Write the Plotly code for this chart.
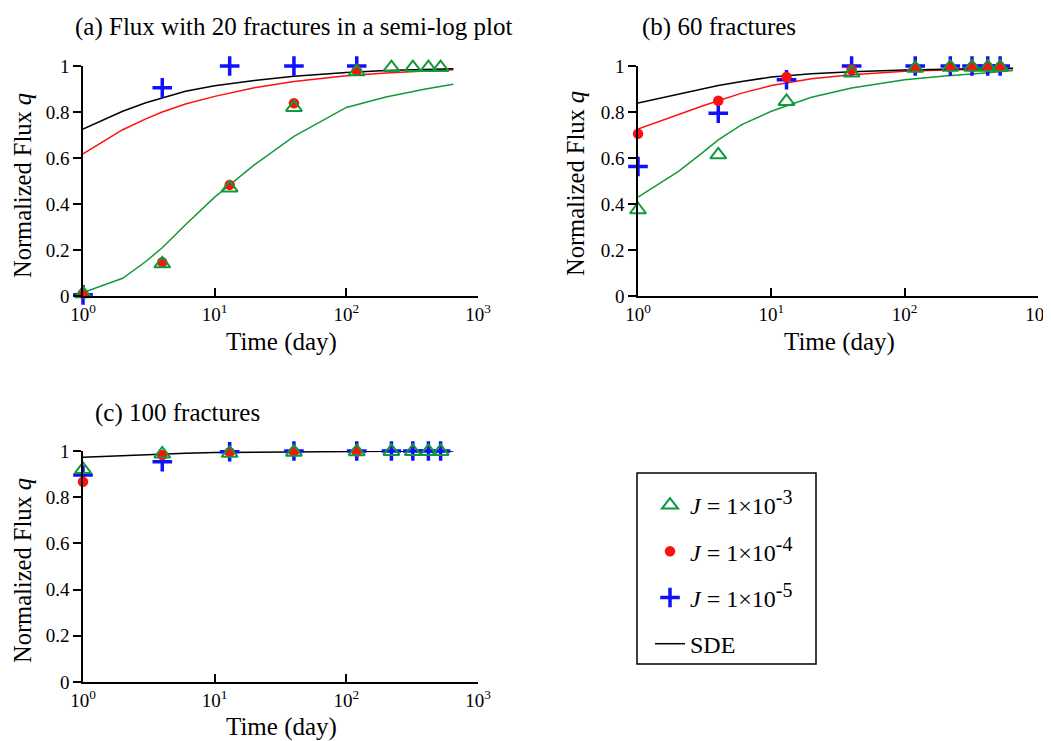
import plotly.graph_objects as go

# ---------------- data ----------------
t_markers = [1, 4, 13, 40, 120, 220, 320, 420, 520]
t_curve = [1, 2, 3, 4, 6, 10, 20, 40, 100, 200, 400, 650]

# Panel (a): 20 fractures
a_J3 = [0.01, 0.14, 0.47, 0.82, 0.975, 0.993, 0.993, 0.993, 0.993]
a_J4 = [0.01, 0.147, 0.483, 0.838, 0.98]
a_J5 = [0.005, 0.905, 1.0, 1.0, 1.0]
a_sde = [0.726, 0.803, 0.84, 0.862, 0.89, 0.914, 0.937, 0.955, 0.972, 0.98, 0.985, 0.988]
a_red = [0.618, 0.723, 0.77, 0.80, 0.835, 0.868, 0.905, 0.933, 0.958, 0.97, 0.978, 0.984]
a_green = [0.015, 0.077, 0.15, 0.21, 0.31, 0.43, 0.57, 0.694, 0.82, 0.865, 0.90, 0.921]

# Panel (b): 60 fractures
b_J3 = [0.375, 0.614, 0.846, 0.97, 0.99, 0.995, 0.995, 0.995, 0.995]
b_J4 = [0.705, 0.849, 0.952, 0.985, 0.993, 0.996, 0.996, 0.996, 0.996]
b_J5 = [0.563, 0.795, 0.94, 1.0, 1.0, 1.0, 1.0, 1.0, 1.0]
b_sde = [0.839, 0.878, 0.90, 0.915, 0.933, 0.952, 0.966, 0.975, 0.983, 0.987, 0.989, 0.99]
b_red = [0.726, 0.79, 0.825, 0.849, 0.882, 0.915, 0.945, 0.962, 0.977, 0.983, 0.986, 0.988]
b_green = [0.43, 0.541, 0.62, 0.679, 0.745, 0.803, 0.864, 0.904, 0.94, 0.957, 0.97, 0.98]

# Panel (c): 100 fractures
c_J3 = [0.92, 0.987, 0.99, 0.995, 0.997, 0.998, 0.998, 0.998, 0.998]
c_J4 = [0.867, 0.983, 0.995, 0.998, 0.998]
c_J5 = [0.896, 0.954, 0.997, 1.0, 1.0, 1.0, 1.0, 1.0, 1.0]
c_sde = [0.973, 0.98, 0.984, 0.987, 0.99, 0.993, 0.995, 0.997, 0.998, 0.999, 0.999, 1.0]

titles = ["(a) Flux with 20 fractures in a semi-log plot", "(b) 60 fractures", "(c) 100 fractures"]
x_title = "Time (day)"
y_title = "Normalized Flux <i>q</i>"
exponents = ["-3", "-4", "-5"]
legend_names = ["<i>J</i> = 1\u00d710<sup><span style=\"font-size:20px\">%s</span></sup>" % e
                for e in exponents] + ["SDE"]
x_tickvals = [1, 10, 100, 1000]
x_ticktext = ["10<sup>0</sup>", "10<sup>1</sup>", "10<sup>2</sup>", "10<sup>3</sup>"]
y_tickvals = [0, 0.2, 0.4, 0.6, 0.8, 1]
y_ticktext = ["0", "0.2", "0.4", "0.6", "0.8", "1"]

GREEN = "#11993a"
RED = "#ff1010"
BLUE = "#1010ff"
FONT = "Liberation Serif"
# the page body has an 8px margin, so page pixels are offset by 8 from figure pixels
OFF = 8
W, H = 1051, 741


def px_x(p):
    return (p - OFF) / W


def px_y(p):
    return 1 - (p - OFF) / H


fig = go.Figure()

panels = [
    dict(ax="", J3=a_J3, J4=a_J4, J5=a_J5, sde=a_sde, red=a_red, green=a_green),
    dict(ax="2", J3=b_J3, J4=b_J4, J5=b_J5, sde=b_sde, red=b_red, green=b_green),
    dict(ax="3", J3=c_J3, J4=c_J4, J5=c_J5, sde=c_sde, red=None, green=None),
]

for i, p in enumerate(panels):
    xa, ya = "x" + p["ax"], "y" + p["ax"]
    show = i == 0
    if p["green"] is not None:
        fig.add_trace(go.Scatter(x=t_curve, y=p["green"], mode="lines", xaxis=xa, yaxis=ya,
                                 line=dict(color=GREEN, width=1.5), showlegend=False))
    if p["red"] is not None:
        fig.add_trace(go.Scatter(x=t_curve, y=p["red"], mode="lines", xaxis=xa, yaxis=ya,
                                 line=dict(color=RED, width=1.5), showlegend=False))
    fig.add_trace(go.Scatter(x=t_curve, y=p["sde"], mode="lines", xaxis=xa, yaxis=ya,
                             line=dict(color="black", width=1.5), name=legend_names[3],
                             showlegend=show, legendrank=4, legendgroup="g4"))
    fig.add_trace(go.Scatter(x=t_markers[:len(p["J5"])], y=p["J5"], mode="markers", xaxis=xa, yaxis=ya,
                             marker=dict(symbol="cross-thin-open", size=14, color=BLUE,
                                         line=dict(color=BLUE, width=3.5)),
                             name=legend_names[2], showlegend=show, legendrank=3, legendgroup="g3",
                             cliponaxis=False))
    fig.add_trace(go.Scatter(x=t_markers[:len(p["J4"])], y=p["J4"], mode="markers", xaxis=xa, yaxis=ya,
                             marker=dict(symbol="circle", size=10.5, color=RED, line=dict(width=0)),
                             name=legend_names[1], showlegend=show, legendrank=2, legendgroup="g2",
                             cliponaxis=False))
    fig.add_trace(go.Scatter(x=t_markers[:len(p["J3"])], y=p["J3"], mode="markers", xaxis=xa, yaxis=ya,
                             marker=dict(symbol="triangle-up-open", size=14, color=GREEN,
                                         line=dict(color=GREEN, width=2)),
                             name=legend_names[0], showlegend=show, legendrank=1, legendgroup="g1",
                             cliponaxis=False))

domains = {
    "": ([px_x(83), px_x(478)], [px_y(296), px_y(66)]),
    "2": ([px_x(638), px_x(1038)], [px_y(296), px_y(66)]),
    "3": ([px_x(83), px_x(478)], [px_y(682), px_y(451)]),
}

for k, (dx, dy) in domains.items():
    xaxis = dict(domain=dx, type="log", range=[0, 3], anchor="y" + k, automargin=False,
                 tickvals=x_tickvals, ticktext=x_ticktext, ticks="inside", ticklen=8,
                 tickwidth=1.5, tickcolor="black", showline=True, linecolor="black", linewidth=1.5,
                 showgrid=False, zeroline=False, tickfont=dict(size=19, family=FONT, color="black"))
    yaxis = dict(domain=dy, range=[0, 1], anchor="x" + k, automargin=False,
                 tickvals=y_tickvals, ticktext=y_ticktext, ticks="outside", ticklen=8,
                 tickwidth=1.5, tickcolor="black", showline=True, linecolor="black", linewidth=1.5,
                 showgrid=False, zeroline=False, tickfont=dict(size=19, family=FONT, color="black"))
    fig.update_layout(**{"xaxis" + k: xaxis, "yaxis" + k: yaxis})

# panel titles
title_pos = [(73, 27), (640, 27), (93, 413)]
for txt, (tx, ty) in zip(titles, title_pos):
    fig.add_annotation(text=txt, x=px_x(tx), y=px_y(ty), xref="paper", yref="paper",
                       xanchor="left", yanchor="middle", showarrow=False,
                       font=dict(size=25, family=FONT, color="black"))

# axis titles
x_title_pos = [(281, 342), (839, 342), (281, 727)]
y_title_pos = [(22, 186), (575, 184), (22, 571)]
for (tx, ty) in x_title_pos:
    fig.add_annotation(text=x_title, x=px_x(tx), y=px_y(ty), xref="paper", yref="paper",
                       xanchor="center", yanchor="middle", showarrow=False,
                       font=dict(size=25, family=FONT, color="black"))
for (tx, ty) in y_title_pos:
    fig.add_annotation(text=y_title, x=px_x(tx), y=px_y(ty), xref="paper", yref="paper",
                       xanchor="center", yanchor="middle", showarrow=False, textangle=-90,
                       font=dict(size=24.5, family=FONT, color="black"))

fig.add_shape(type="rect", xref="paper", yref="paper",
              x0=px_x(637), x1=px_x(816), y0=px_y(664), y1=px_y(473),
              line=dict(color="black", width=1.5), fillcolor="rgba(0,0,0,0)")

fig.update_layout(
    width=W, height=H,
    margin=dict(l=0, r=0, t=0, b=0),
    paper_bgcolor="white", plot_bgcolor="white",
    font=dict(family=FONT, color="black"),
    legend=dict(x=px_x(650), y=px_y(483), xanchor="left", yanchor="top",
                bgcolor="rgba(0,0,0,0)", borderwidth=0, tracegroupgap=12,
                font=dict(size=24, family=FONT, color="black"), traceorder="grouped"),
)

fig.write_html("out.html")
